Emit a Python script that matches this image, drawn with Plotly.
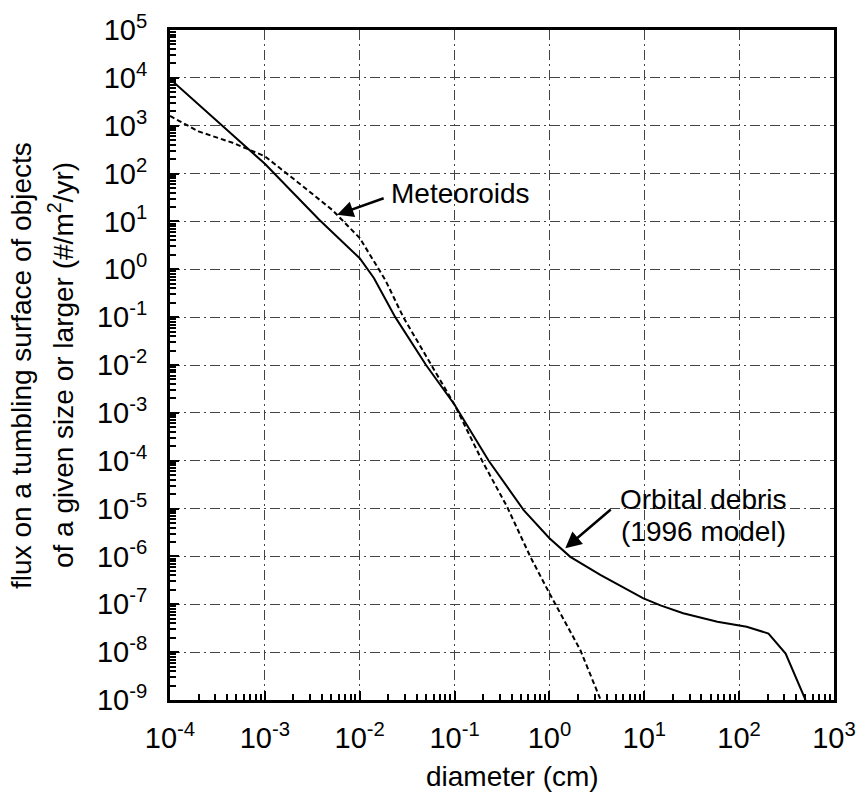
import plotly.graph_objects as go

# ---- data ----
debris_d = [1e-4, 3.55e-4, 1e-3, 3.72e-3, 1e-2, 1.41e-2, 2.37e-2, 5.0e-2, 1e-1, 2.29e-1,
            5.35e-1, 1.0, 1.66, 3.44, 9.68, 14.8, 25.7, 58.9, 120, 204, 309, 501]
debris_f = [9.5e3, 1.0e3, 1.6e2, 11.0, 1.7, 0.66, 0.10, 1.0e-2, 1.48e-3, 1.0e-4,
            9.3e-6, 2.4e-6, 9.8e-7, 4.1e-7, 1.35e-7, 9.5e-8, 6.5e-8, 4.3e-8, 3.4e-8, 2.45e-8,
            9.3e-9, 1.0e-9]

meteor_d = [1e-4, 2.0e-4, 4.57e-4, 1e-3, 2.29e-3, 5.13e-3, 1e-2, 1.86e-2, 2.88e-2, 5.75e-2,
            1e-1, 1.95e-1, 3.57e-1, 6.3e-1, 1.0, 2.12, 3.47]
meteor_f = [1.6e3, 7.6e2, 4.4e2, 2.3e2, 63, 17.4, 4.5, 0.60, 0.10, 1.0e-2,
            1.48e-3, 1.0e-4, 1.1e-5, 9.8e-7, 1.7e-7, 1.1e-8, 1.0e-9]

x_exponents = [-4, -3, -2, -1, 0, 1, 2, 3]
y_exponents = [5, 4, 3, 2, 1, 0, -1, -2, -3, -4, -5, -6, -7, -8, -9]

x_tickvals = [10.0 ** e for e in x_exponents]
x_ticktext = [f"10<sup>{e}</sup>" for e in x_exponents]
y_tickvals = [10.0 ** e for e in y_exponents]
y_ticktext = [f"10<sup>{e}</sup>" for e in y_exponents]

FONT = "Liberation Sans, Arial, sans-serif"

fig = go.Figure()
fig.add_trace(go.Scatter(x=meteor_d, y=meteor_f, mode="lines",
                         line=dict(color="black", width=2, dash="5px,3px"),
                         name="Meteoroids", showlegend=False))
fig.add_trace(go.Scatter(x=debris_d, y=debris_f, mode="lines",
                         line=dict(color="black", width=2),
                         name="Orbital debris (1996 model)", showlegend=False))

grid = dict(showgrid=True, gridcolor="#444", gridwidth=1, griddash="10px,4px,2px,4px")
minor = dict(ticks="inside", ticklen=6, tickwidth=1.5, tickcolor="black",
             dtick="D1", showgrid=False)
common = dict(type="log", tickmode="array", ticks="inside", ticklen=9, tickwidth=2,
              tickcolor="black", showline=True, linewidth=3, linecolor="black",
              mirror=True, zeroline=False, automargin=False, minor=minor,
              tickfont=dict(family=FONT, size=29, color="black"), **grid)

fig.update_layout(
    xaxis=dict(range=[-4, 3], tickvals=x_tickvals, ticktext=x_ticktext,
               ticklabelstandoff=10, **common),
    yaxis=dict(range=[-9, 5], tickvals=y_tickvals, ticktext=y_ticktext,
               ticklabelstandoff=14, **common),
)

ann_font = dict(family=FONT, size=28, color="black")
annotations = [
    # y-axis title (two lines)
    dict(text="flux on a tumbling surface of objects", xref="paper", yref="paper",
         x=-0.2245, y=0.5, xanchor="center", yanchor="middle", textangle=-90,
         showarrow=False, font=ann_font),
    dict(text="of a given size or larger (#/m<sup>2</sup>/yr)", xref="paper", yref="paper",
         x=-0.1640, y=0.5, xanchor="center", yanchor="middle", textangle=-90,
         showarrow=False, font=ann_font),
    # x-axis title
    dict(text="diameter (cm)", xref="paper", yref="paper", x=0.516, y=-0.1403,
         xanchor="center", yanchor="bottom", showarrow=False, font=ann_font),
    # curve labels
    dict(text="Meteoroids", xref="x", yref="y", x=-0.94, y=1.58,
         xanchor="center", yanchor="middle", showarrow=False, font=ann_font),
    dict(text="Orbital debris", xref="x", yref="y", x=1.622, y=-4.82,
         xanchor="center", yanchor="middle", showarrow=False, font=ann_font),
    dict(text="(1996 model)", xref="x", yref="y", x=1.622, y=-5.47,
         xanchor="center", yanchor="middle", showarrow=False, font=ann_font),
    # arrows
    dict(text="", xref="x", yref="y", x=-2.238, y=1.14, ax=48, ay=-17,
         showarrow=True, arrowhead=2, arrowsize=1.3, arrowwidth=2.5, arrowcolor="black",
         standoff=0),
    dict(text="", xref="x", yref="y", x=0.167, y=-5.83, ax=47, ay=-40,
         showarrow=True, arrowhead=2, arrowsize=1.3, arrowwidth=2.5, arrowcolor="black",
         standoff=0),
]

fig.update_layout(width=860, height=795, margin=dict(l=170, r=26, t=30, b=95),
                  paper_bgcolor="white", plot_bgcolor="white",
                  font=dict(family=FONT, color="black"),
                  annotations=annotations, showlegend=False)

fig.write_html("out.html", config={"displayModeBar": False},
               post_script="document.body.style.margin='0px';")
